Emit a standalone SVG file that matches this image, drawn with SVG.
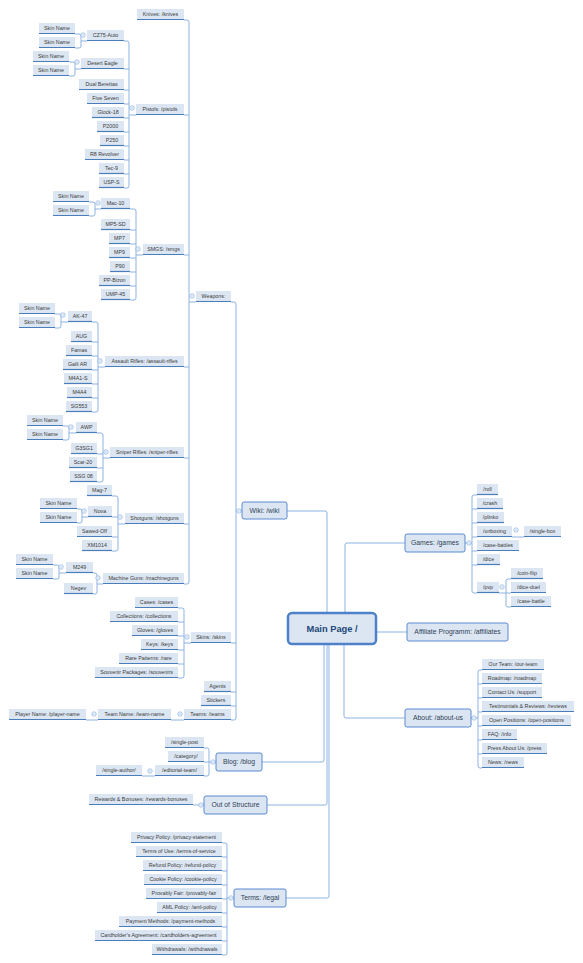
<svg xmlns="http://www.w3.org/2000/svg" xmlns:xlink="http://www.w3.org/1999/xlink" width="583" height="963" viewBox="0 0 583 963">
<style>
.c{fill:none;stroke:#8db3e2;stroke-width:1}
.lf rect{fill:#dce6f2}
.lf path{stroke:#4a7ebb;stroke-width:1.2;fill:none}
.lf text{font-family:"Liberation Sans",Arial,sans-serif;font-size:5.3px;fill:#3a3a3a;text-anchor:middle}
.md rect{fill:#dce6f2;stroke:#5a8ad0;stroke-width:1}
.md text{font-family:"Liberation Sans",Arial,sans-serif;font-size:6.8px;fill:#2f3f58;text-anchor:middle}
.mn rect{fill:#dce6f2;stroke:#4f81c9;stroke-width:2.5}
.mn text{font-family:"Liberation Sans",Arial,sans-serif;font-size:9.3px;font-weight:bold;fill:#23467a;text-anchor:middle}
.bt circle{fill:#fff;stroke:#8db3e2;stroke-width:0.8}
.bt path{stroke:#8db3e2;stroke-width:0.6}
</style>
<defs>
<g id="btn" class="bt"><circle r="2.2"/><path d="M-1.2,0H1.2"/></g>
</defs>
<rect width="583" height="963" fill="#fff"/>
<g id="connectors">
<path class="c" d="M184,20 H187 Q189,20 189,22 V582 Q189,584 187,584 H184 M184,115 H189 M184,255 H189 M184,367 H189 M184,458 H189 M184,524 H189 M189,302 H196"/>
<path class="c" d="M124,41 H127 Q129,41 129,43 V186 Q129,188 127,188 H124 M124,69 H129 M124,90 H129 M124,104 H129 M124,118 H129 M124,132 H129 M124,146 H129 M124,160 H129 M124,174 H129 M129,115 H136"/>
<path class="c" d="M75,34 H79 Q81,34 81,36 V46 Q81,48 79,48 H75 M81,41 H87"/>
<path class="c" d="M69,62 H73 Q75,62 75,64 V74 Q75,76 73,76 H69 M75,69 H81"/>
<path class="c" d="M130,209 H134 Q136,209 136,211 V298 Q136,300 134,300 H130 M130,230 H136 M130,244 H136 M130,258 H136 M130,272 H136 M130,286 H136 M136,255 H143"/>
<path class="c" d="M89,202 H93 Q95,202 95,204 V214 Q95,216 93,216 H89 M95,209 H101"/>
<path class="c" d="M92,322 H96 Q98,322 98,324 V410 Q98,412 96,412 H92 M92,342 H98 M92,356 H98 M92,370 H98 M92,384 H98 M92,398 H98 M98,367 H105"/>
<path class="c" d="M55,314 H59 Q61,314 61,316 V326 Q61,328 59,328 H55 M61,322 H68"/>
<path class="c" d="M97,433 H101 Q103,433 103,435 V480 Q103,482 101,482 H97 M97,454 H103 M97,468 H103 M103,458 H110"/>
<path class="c" d="M63,426 H67 Q69,426 69,428 V438 Q69,440 67,440 H63 M69,433 H76"/>
<path class="c" d="M112,496 H116 Q118,496 118,498 V549 Q118,551 116,551 H112 M112,517 H118 M112,537 H118 M118,524 H125"/>
<path class="c" d="M77,509 H80 Q82,509 82,511 V521 Q82,523 80,523 H77 M82,517 H88"/>
<path class="c" d="M93,573 H95 Q97,573 97,575 V592 Q97,594 95,594 H93 M97,584 H103"/>
<path class="c" d="M53,565 H57 Q59,565 59,567 V577 Q59,579 57,579 H53 M59,573 H66"/>
<path class="c" d="M231,302 H234 Q236,302 236,304 V718 Q236,720 234,720 H231 M231,643 H236 M231,692 H236 M231,706 H236 M236,511 H242"/>
<path class="c" d="M178,608 H182 Q184,608 184,610 V676 Q184,678 182,678 H178 M178,622 H184 M178,636 H184 M178,650 H184 M178,664 H184 M184,643 H191"/>
<path class="c" d="M171,720 H184 M86,720 H98"/>
<path class="c" d="M204,748 H207 Q209,748 209,750 V774 Q209,776 207,776 H204 M204,762 H209 M209,762 H216 M142,776 H155"/>
<path class="c" d="M193,805 H204"/>
<path class="c" d="M222,843 H225 Q227,843 227,845 V953 Q227,955 225,955 H222 M222,857 H227 M222,871 H227 M222,885 H227 M222,899 H227 M222,913 H227 M222,927 H227 M222,941 H227 M227,898 H234"/>
<path class="c" d="M477,495 H474 Q472,495 472,497 V591 Q472,593 474,593 H477 M472,509 H477 M472,523 H477 M472,537 H477 M472,551 H477 M472,565 H477 M465,543 H472 M512,537 H524"/>
<path class="c" d="M511,579 H508 Q506,579 506,581 V605 Q506,607 508,607 H511 M506,593 H511 M499,593 H506"/>
<path class="c" d="M482,670 H480 Q478,670 478,672 V766 Q478,768 480,768 H482 M478,684 H482 M478,698 H482 M478,712 H482 M478,726 H482 M478,740 H482 M478,754 H482 M471,718 H478"/>
<path class="c" d="M287,511 H325 Q327,511 327,513 V613"/>
<path class="c" d="M345,613 V545 Q345,543 347,543 H405"/>
<path class="c" d="M376,632 H407"/>
<path class="c" d="M344,644 V716 Q344,718 346,718 H405"/>
<path class="c" d="M262,762 H322 Q324,762 324,760 V644"/>
<path class="c" d="M267,805 H325 Q327,805 327,803 V644"/>
<path class="c" d="M286,898 H327 Q329,898 329,896 V644"/>
<use href="#btn" x="83" y="35"/>
<use href="#btn" x="77" y="62"/>
<use href="#btn" x="132" y="108"/>
<use href="#btn" x="98" y="203"/>
<use href="#btn" x="138" y="249"/>
<use href="#btn" x="192" y="296"/>
<use href="#btn" x="63" y="315"/>
<use href="#btn" x="100" y="361"/>
<use href="#btn" x="71" y="427"/>
<use href="#btn" x="106" y="452"/>
<use href="#btn" x="84" y="511"/>
<use href="#btn" x="120" y="517"/>
<use href="#btn" x="61" y="567"/>
<use href="#btn" x="98" y="578"/>
<use href="#btn" x="239" y="511"/>
<use href="#btn" x="187" y="637"/>
<use href="#btn" x="180" y="714"/>
<use href="#btn" x="94" y="714"/>
<use href="#btn" x="213" y="762"/>
<use href="#btn" x="150" y="771"/>
<use href="#btn" x="201" y="805"/>
<use href="#btn" x="231" y="898"/>
<use href="#btn" x="469" y="543"/>
<use href="#btn" x="516" y="530"/>
<use href="#btn" x="502" y="587"/>
<use href="#btn" x="474" y="718"/>
</g>
<g id="nodes">
<g id="main" class="mn"><rect x="288" y="613" width="88" height="31" rx="4"/><text x="332" y="632">Main Page /</text></g>
<g id="wiki" class="md"><rect x="242" y="502" width="45" height="17" rx="2"/><text x="264.5" y="513">Wiki: /wiki</text></g>
<g id="games" class="md"><rect x="405" y="534" width="60" height="18" rx="2"/><text x="435" y="545.4">Games: /games</text></g>
<g id="affiliates" class="md"><rect x="407" y="623" width="101" height="18" rx="2"/><text x="457.5" y="634.4">Affiliate Programm: /affiliates</text></g>
<g id="about" class="md"><rect x="405" y="709" width="66" height="18" rx="2"/><text x="438" y="720.4">About: /about-us</text></g>
<g id="blog" class="md"><rect x="216" y="753" width="46" height="18" rx="2"/><text x="239" y="764.4">Blog: /blog</text></g>
<g id="out" class="md"><rect x="204" y="796" width="63" height="18" rx="2"/><text x="235.5" y="807.4">Out of Structure</text></g>
<g id="legal" class="md"><rect x="234" y="889" width="52" height="18" rx="2"/><text x="260" y="900.4">Terms: /legal</text></g>

<g id="n1" class="lf"><rect x="137" y="9" width="47" height="11"/><path d="M137,19.5H184"/><text x="160.5" y="16.4">Knives: /knives</text></g>
<g id="n2" class="lf"><rect x="87" y="30" width="37" height="11"/><path d="M87,40.5H124"/><text x="105.5" y="37.4">CZ75-Auto</text></g>
<g id="n3" class="lf"><rect x="39" y="23" width="36" height="11"/><path d="M39,33.5H75"/><text x="57" y="30.4">Skin Name</text></g>
<g id="n4" class="lf"><rect x="39" y="37" width="36" height="11"/><path d="M39,47.5H75"/><text x="57" y="44.4">Skin Name</text></g>
<g id="n5" class="lf"><rect x="81" y="58" width="43" height="11"/><path d="M81,68.5H124"/><text x="102.5" y="65.4">Desert Eagle</text></g>
<g id="n6" class="lf"><rect x="33" y="51" width="36" height="11"/><path d="M33,61.5H69"/><text x="51" y="58.4">Skin Name</text></g>
<g id="n7" class="lf"><rect x="33" y="65" width="36" height="11"/><path d="M33,75.5H69"/><text x="51" y="72.4">Skin Name</text></g>
<g id="n8" class="lf"><rect x="79" y="79" width="45" height="11"/><path d="M79,89.5H124"/><text x="101.5" y="86.4">Dual Berettas</text></g>
<g id="n9" class="lf"><rect x="87" y="93" width="37" height="11"/><path d="M87,103.5H124"/><text x="105.5" y="100.4">Five Seven</text></g>
<g id="n10" class="lf"><rect x="92" y="107" width="32" height="11"/><path d="M92,117.5H124"/><text x="108" y="114.4">Glock-18</text></g>
<g id="n11" class="lf"><rect x="97" y="121" width="27" height="11"/><path d="M97,131.5H124"/><text x="110.5" y="128.4">P2000</text></g>
<g id="n12" class="lf"><rect x="100" y="135" width="24" height="11"/><path d="M100,145.5H124"/><text x="112" y="142.4">P250</text></g>
<g id="n13" class="lf"><rect x="85" y="149" width="39" height="11"/><path d="M85,159.5H124"/><text x="104.5" y="156.4">R8 Revolver</text></g>
<g id="n14" class="lf"><rect x="99" y="163" width="25" height="11"/><path d="M99,173.5H124"/><text x="111.5" y="170.4">Tec-9</text></g>
<g id="n15" class="lf"><rect x="99" y="177" width="25" height="11"/><path d="M99,187.5H124"/><text x="111.5" y="184.4">USP-S</text></g>
<g id="n16" class="lf"><rect x="136" y="104" width="48" height="11"/><path d="M136,114.5H184"/><text x="160" y="111.4">Pistols: /pistols</text></g>
<g id="n17" class="lf"><rect x="53" y="191" width="36" height="11"/><path d="M53,201.5H89"/><text x="71" y="198.4">Skin Name</text></g>
<g id="n18" class="lf"><rect x="53" y="205" width="36" height="11"/><path d="M53,215.5H89"/><text x="71" y="212.4">Skin Name</text></g>
<g id="n19" class="lf"><rect x="101" y="198" width="29" height="11"/><path d="M101,208.5H130"/><text x="115.5" y="205.4">Mac-10</text></g>
<g id="n20" class="lf"><rect x="101" y="219" width="29" height="11"/><path d="M101,229.5H130"/><text x="115.5" y="226.4">MP5-SD</text></g>
<g id="n21" class="lf"><rect x="109" y="233" width="21" height="11"/><path d="M109,243.5H130"/><text x="119.5" y="240.4">MP7</text></g>
<g id="n22" class="lf"><rect x="109" y="247" width="21" height="11"/><path d="M109,257.5H130"/><text x="119.5" y="254.4">MP9</text></g>
<g id="n23" class="lf"><rect x="110" y="261" width="20" height="11"/><path d="M110,271.5H130"/><text x="120" y="268.4">P90</text></g>
<g id="n24" class="lf"><rect x="99" y="275" width="31" height="11"/><path d="M99,285.5H130"/><text x="114.5" y="282.4">PP-Bizon</text></g>
<g id="n25" class="lf"><rect x="101" y="289" width="29" height="11"/><path d="M101,299.5H130"/><text x="115.5" y="296.4">UMP-45</text></g>
<g id="n26" class="lf"><rect x="143" y="244" width="41" height="11"/><path d="M143,254.5H184"/><text x="163.5" y="251.4">SMGS: /smgs</text></g>
<g id="n27" class="lf"><rect x="196" y="291" width="35" height="11"/><path d="M196,301.5H231"/><text x="213.5" y="298.4">Weapons:</text></g>
<g id="n28" class="lf"><rect x="19" y="303" width="36" height="11"/><path d="M19,313.5H55"/><text x="37" y="310.4">Skin Name</text></g>
<g id="n29" class="lf"><rect x="19" y="317" width="36" height="11"/><path d="M19,327.5H55"/><text x="37" y="324.4">Skin Name</text></g>
<g id="n30" class="lf"><rect x="68" y="311" width="24" height="11"/><path d="M68,321.5H92"/><text x="80" y="318.4">AK-47</text></g>
<g id="n31" class="lf"><rect x="71" y="331" width="21" height="11"/><path d="M71,341.5H92"/><text x="81.5" y="338.4">AUG</text></g>
<g id="n32" class="lf"><rect x="66" y="345" width="26" height="11"/><path d="M66,355.5H92"/><text x="79" y="352.4">Famas</text></g>
<g id="n33" class="lf"><rect x="63" y="359" width="29" height="11"/><path d="M63,369.5H92"/><text x="77.5" y="366.4">Galil AR</text></g>
<g id="n34" class="lf"><rect x="64" y="373" width="28" height="11"/><path d="M64,383.5H92"/><text x="78" y="380.4">M4A1-S</text></g>
<g id="n35" class="lf"><rect x="67" y="387" width="25" height="11"/><path d="M67,397.5H92"/><text x="79.5" y="394.4">M4A4</text></g>
<g id="n36" class="lf"><rect x="66" y="401" width="26" height="11"/><path d="M66,411.5H92"/><text x="79" y="408.4">SG553</text></g>
<g id="n37" class="lf"><rect x="105" y="356" width="79" height="11"/><path d="M105,366.5H184"/><text x="144.5" y="363.4">Assault Rifles: /assault-rifles</text></g>
<g id="n38" class="lf"><rect x="27" y="415" width="36" height="11"/><path d="M27,425.5H63"/><text x="45" y="422.4">Skin Name</text></g>
<g id="n39" class="lf"><rect x="27" y="429" width="36" height="11"/><path d="M27,439.5H63"/><text x="45" y="436.4">Skin Name</text></g>
<g id="n40" class="lf"><rect x="76" y="422" width="21" height="11"/><path d="M76,432.5H97"/><text x="86.5" y="429.4">AWP</text></g>
<g id="n41" class="lf"><rect x="71" y="443" width="26" height="11"/><path d="M71,453.5H97"/><text x="84" y="450.4">G3SG1</text></g>
<g id="n42" class="lf"><rect x="69" y="457" width="28" height="11"/><path d="M69,467.5H97"/><text x="83" y="464.4">Scar-20</text></g>
<g id="n43" class="lf"><rect x="70" y="471" width="27" height="11"/><path d="M70,481.5H97"/><text x="83.5" y="478.4">SSG 08</text></g>
<g id="n44" class="lf"><rect x="110" y="447" width="74" height="11"/><path d="M110,457.5H184"/><text x="147" y="454.4">Sniper Rifles: /sniper-rifles</text></g>
<g id="n45" class="lf"><rect x="87" y="485" width="25" height="11"/><path d="M87,495.5H112"/><text x="99.5" y="492.4">Mag-7</text></g>
<g id="n46" class="lf"><rect x="40" y="498" width="37" height="11"/><path d="M40,508.5H77"/><text x="58.5" y="505.4">Skin Name</text></g>
<g id="n47" class="lf"><rect x="40" y="512" width="37" height="11"/><path d="M40,522.5H77"/><text x="58.5" y="519.4">Skin Name</text></g>
<g id="n48" class="lf"><rect x="88" y="506" width="24" height="11"/><path d="M88,516.5H112"/><text x="100" y="513.4">Nova</text></g>
<g id="n49" class="lf"><rect x="77" y="526" width="35" height="11"/><path d="M77,536.5H112"/><text x="94.5" y="533.4">Sawed-Off</text></g>
<g id="n50" class="lf"><rect x="82" y="540" width="30" height="11"/><path d="M82,550.5H112"/><text x="97" y="547.4">XM1014</text></g>
<g id="n51" class="lf"><rect x="125" y="513" width="59" height="11"/><path d="M125,523.5H184"/><text x="154.5" y="520.4">Shotguns: /shotguns</text></g>
<g id="n52" class="lf"><rect x="16" y="554" width="37" height="11"/><path d="M16,564.5H53"/><text x="34.5" y="561.4">Skin Name</text></g>
<g id="n53" class="lf"><rect x="16" y="568" width="37" height="11"/><path d="M16,578.5H53"/><text x="34.5" y="575.4">Skin Name</text></g>
<g id="n54" class="lf"><rect x="66" y="562" width="27" height="11"/><path d="M66,572.5H93"/><text x="79.5" y="569.4">M249</text></g>
<g id="n55" class="lf"><rect x="64" y="583" width="29" height="11"/><path d="M64,593.5H93"/><text x="78.5" y="590.4">Negev</text></g>
<g id="n56" class="lf"><rect x="103" y="573" width="81" height="11"/><path d="M103,583.5H184"/><text x="143.5" y="580.4">Machine Guns: /machineguns</text></g>
<g id="n57" class="lf"><rect x="135" y="597" width="43" height="11"/><path d="M135,607.5H178"/><text x="156.5" y="604.4">Cases: /cases</text></g>
<g id="n58" class="lf"><rect x="110" y="611" width="68" height="11"/><path d="M110,621.5H178"/><text x="144" y="618.4">Collections: /collections</text></g>
<g id="n59" class="lf"><rect x="132" y="625" width="46" height="11"/><path d="M132,635.5H178"/><text x="155" y="632.4">Gloves: /gloves</text></g>
<g id="n60" class="lf"><rect x="141" y="639" width="37" height="11"/><path d="M141,649.5H178"/><text x="159.5" y="646.4">Keys: /keys</text></g>
<g id="n61" class="lf"><rect x="119" y="653" width="59" height="11"/><path d="M119,663.5H178"/><text x="148.5" y="660.4">Rare Patterns: /rare</text></g>
<g id="n62" class="lf"><rect x="95" y="667" width="83" height="11"/><path d="M95,677.5H178"/><text x="136.5" y="674.4">Souvenir Packages: /souvenirs</text></g>
<g id="n63" class="lf"><rect x="191" y="632" width="40" height="11"/><path d="M191,642.5H231"/><text x="211" y="639.4">Skins: /skins</text></g>
<g id="n64" class="lf"><rect x="204" y="681" width="27" height="11"/><path d="M204,691.5H231"/><text x="217.5" y="688.4">Agents</text></g>
<g id="n65" class="lf"><rect x="201" y="695" width="30" height="11"/><path d="M201,705.5H231"/><text x="216" y="702.4">Stickers</text></g>
<g id="n66" class="lf"><rect x="184" y="709" width="47" height="11"/><path d="M184,719.5H231"/><text x="207.5" y="716.4">Teams: /teams</text></g>
<g id="n67" class="lf"><rect x="98" y="709" width="73" height="11"/><path d="M98,719.5H171"/><text x="134.5" y="716.4">Team Name: /team-name</text></g>
<g id="n68" class="lf"><rect x="9" y="709" width="77" height="11"/><path d="M9,719.5H86"/><text x="47.5" y="716.4">Player Name: /player-name</text></g>
<g id="n69" class="lf"><rect x="165" y="737" width="39" height="11"/><path d="M165,747.5H204"/><text x="184.5" y="744.4">/single-post</text></g>
<g id="n70" class="lf"><rect x="168" y="751" width="36" height="11"/><path d="M168,761.5H204"/><text x="186" y="758.4">/category/</text></g>
<g id="n71" class="lf"><rect x="155" y="765" width="49" height="11"/><path d="M155,775.5H204"/><text x="179.5" y="772.4">/editorial-team/</text></g>
<g id="n72" class="lf"><rect x="96" y="765" width="46" height="11"/><path d="M96,775.5H142"/><text x="119" y="772.4">/single-author/</text></g>
<g id="n73" class="lf"><rect x="89" y="794" width="104" height="11"/><path d="M89,804.5H193"/><text x="141" y="801.4">Rewards &amp; Bonuses: /rewards-bonuses</text></g>
<g id="n74" class="lf"><rect x="131" y="832" width="91" height="11"/><path d="M131,842.5H222"/><text x="176.5" y="839.4">Privacy Policy: /privacy-statement</text></g>
<g id="n75" class="lf"><rect x="136" y="846" width="86" height="11"/><path d="M136,856.5H222"/><text x="179" y="853.4">Terms of Use: /terms-of-service</text></g>
<g id="n76" class="lf"><rect x="143" y="860" width="79" height="11"/><path d="M143,870.5H222"/><text x="182.5" y="867.4">Refund Policy: /refund-policy</text></g>
<g id="n77" class="lf"><rect x="144" y="874" width="78" height="11"/><path d="M144,884.5H222"/><text x="183" y="881.4">Cookie Policy: /cookie-policy</text></g>
<g id="n78" class="lf"><rect x="146" y="888" width="76" height="11"/><path d="M146,898.5H222"/><text x="184" y="895.4">Provably Fair: /provably-fair</text></g>
<g id="n79" class="lf"><rect x="157" y="902" width="65" height="11"/><path d="M157,912.5H222"/><text x="189.5" y="909.4">AML Policy: /aml-policy</text></g>
<g id="n80" class="lf"><rect x="119" y="916" width="103" height="11"/><path d="M119,926.5H222"/><text x="170.5" y="923.4">Payment Methods: /payment-methods</text></g>
<g id="n81" class="lf"><rect x="95" y="930" width="127" height="11"/><path d="M95,940.5H222"/><text x="158.5" y="937.4">Cardholder's Agreement: /cardholders-agreement</text></g>
<g id="n82" class="lf"><rect x="152" y="944" width="70" height="11"/><path d="M152,954.5H222"/><text x="187" y="951.4">Withdrawals: /withdrawals</text></g>
<g id="n83" class="lf"><rect x="477" y="484" width="21" height="11"/><path d="M477,494.5H498"/><text x="487.5" y="491.4">/roll</text></g>
<g id="n84" class="lf"><rect x="477" y="498" width="26" height="11"/><path d="M477,508.5H503"/><text x="490" y="505.4">/crash</text></g>
<g id="n85" class="lf"><rect x="477" y="512" width="27" height="11"/><path d="M477,522.5H504"/><text x="490.5" y="519.4">/plinko</text></g>
<g id="n86" class="lf"><rect x="477" y="526" width="35" height="11"/><path d="M477,536.5H512"/><text x="494.5" y="533.4">/unboxing</text></g>
<g id="n87" class="lf"><rect x="524" y="526" width="37" height="11"/><path d="M524,536.5H561"/><text x="542.5" y="533.4">/single-box</text></g>
<g id="n88" class="lf"><rect x="477" y="540" width="42" height="11"/><path d="M477,550.5H519"/><text x="498" y="547.4">/case-battles</text></g>
<g id="n89" class="lf"><rect x="477" y="554" width="23" height="11"/><path d="M477,564.5H500"/><text x="488.5" y="561.4">/dice</text></g>
<g id="n90" class="lf"><rect x="477" y="582" width="22" height="11"/><path d="M477,592.5H499"/><text x="488" y="589.4">/pvp</text></g>
<g id="n91" class="lf"><rect x="511" y="568" width="32" height="11"/><path d="M511,578.5H543"/><text x="527" y="575.4">/coin-flip</text></g>
<g id="n92" class="lf"><rect x="511" y="582" width="35" height="11"/><path d="M511,592.5H546"/><text x="528.5" y="589.4">/dice-duel</text></g>
<g id="n93" class="lf"><rect x="511" y="596" width="40" height="11"/><path d="M511,606.5H551"/><text x="531" y="603.4">/case-battle</text></g>
<g id="n94" class="lf"><rect x="482" y="659" width="62" height="11"/><path d="M482,669.5H544"/><text x="513" y="666.4">Our Team: /our-team</text></g>
<g id="n95" class="lf"><rect x="482" y="673" width="60" height="11"/><path d="M482,683.5H542"/><text x="512" y="680.4">Roadmap: /roadmap</text></g>
<g id="n96" class="lf"><rect x="482" y="687" width="60" height="11"/><path d="M482,697.5H542"/><text x="512" y="694.4">Contact Us: /support</text></g>
<g id="n97" class="lf"><rect x="482" y="701" width="92" height="11"/><path d="M482,711.5H574"/><text x="528" y="708.4">Testimonials &amp; Reviews: /reviews</text></g>
<g id="n98" class="lf"><rect x="482" y="715" width="89" height="11"/><path d="M482,725.5H571"/><text x="526.5" y="722.4">Open Positions: /open-positions</text></g>
<g id="n99" class="lf"><rect x="482" y="729" width="35" height="11"/><path d="M482,739.5H517"/><text x="499.5" y="736.4">FAQ: /info</text></g>
<g id="n100" class="lf"><rect x="482" y="743" width="65" height="11"/><path d="M482,753.5H547"/><text x="514.5" y="750.4">Press About Us: /press</text></g>
<g id="n101" class="lf"><rect x="482" y="757" width="42" height="11"/><path d="M482,767.5H524"/><text x="503" y="764.4">News: /news</text></g>
</g>
</svg>
